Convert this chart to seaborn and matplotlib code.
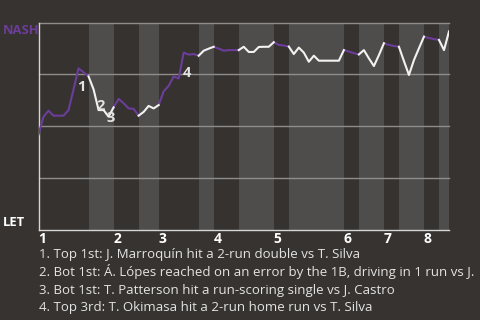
import numpy as np
import pandas as pd
import matplotlib
matplotlib.use("Agg")
import matplotlib.pyplot as plt
import seaborn as sns

# ---------------- data ----------------
# win probability for NASH after each event (1 = NASH, 0 = LET)
wp = [0.461, 0.546, 0.575, 0.551, 0.551, 0.551, 0.578, 0.678, 0.779, 0.760,
      0.740, 0.678, 0.578, 0.578, 0.546, 0.591, 0.632, 0.611, 0.586, 0.584,
      0.551, 0.569, 0.598, 0.586, 0.602, 0.668, 0.695, 0.740, 0.730, 0.855,
      0.845, 0.848, 0.840, 0.864, 0.874, 0.883, 0.874, 0.864, 0.867, 0.867,
      0.867, 0.883, 0.858, 0.858, 0.882, 0.883, 0.883, 0.905, 0.892, 0.889,
      0.884, 0.848, 0.879, 0.855, 0.811, 0.840, 0.816, 0.816, 0.816, 0.816,
      0.816, 0.867, 0.860, 0.852, 0.846, 0.867, 0.827, 0.790, 0.843, 0.900,
      0.892, 0.887, 0.883, 0.814, 0.747, 0.819, 0.876, 0.932, 0.925, 0.920,
      0.916, 0.867, 0.957]
# event index where each half inning starts (last value = final event)
half_bounds = [0, 10, 15, 20, 24, 32, 35, 40, 47, 50, 61, 64, 69, 72, 77, 80, 82]
inning_labels = ["1", "2", "3", "4", "5", "6", "7", "8"]
team_top = "NASH"
team_bottom = "LET"
note_events = [8, 12, 14, 29]
note_labels = ["1", "2", "3", "4"]
notes = [
    "1. Top 1st: J. Marroquín hit a 2-run double vs T. Silva",
    "2. Bot 1st: Á. Lópes reached on an error by the 1B, driving in 1 run vs J.",
    "3. Bot 1st: T. Patterson hit a run-scoring single vs J. Castro",
    "4. Top 3rd: T. Okimasa hit a 2-run home run vs T. Silva",
]

# ---------------- style ----------------
BG = "#363330"
DARK = "#353230"
LIGHT = "#4f4d4b"
PURPLE = "#6c3d9a"
WHITE = "#f2f2f2"
GRID = "#8e8d8b"
SPINE = "#d6d6d6"
TEXT = "#e4e4e4"
note_offsets = [(2.3, -13.5), (1.3, 3.0), (1.8, -1.2), (2.5, -14.4)]  # points

rows = []
for h in range(len(half_bounds) - 1):
    s, e = half_bounds[h], half_bounds[h + 1]
    side = "top" if h % 2 == 0 else "bot"
    for i in range(s, e + 1):
        rows.append({"event": i, "wp": wp[i], "seg": h, "side": side})
df = pd.DataFrame(rows)

plt.rcParams["font.family"] = ["Open Sans", "DejaVu Sans"]

fig = plt.figure(figsize=(4.8, 3.2), dpi=100, facecolor=BG)
ax = fig.add_axes([38.5 / 480, 90 / 320, (449 - 38.5) / 480, 207.5 / 320])
ax.set_facecolor(BG)

for h in range(len(half_bounds) - 1):
    ax.axvspan(half_bounds[h], half_bounds[h + 1],
               color=DARK if h % 2 == 0 else LIGHT, lw=0, zorder=0)
for yv in [0.25, 0.5, 0.75, 1.0]:
    ax.axhline(yv, color=GRID, lw=1.0, zorder=1, clip_on=False)

sns.lineplot(data=df, x="event", y="wp", units="seg", estimator=None,
             hue="side", palette={"top": PURPLE, "bot": WHITE},
             legend=False, lw=1.5, ax=ax, zorder=3)

ax.set_xlim(half_bounds[0], half_bounds[-1])
ax.set_ylim(0, 1)
ax.set_xlabel("")
ax.set_ylabel("")
ax.set_yticks([])
ax.set_xticks(half_bounds[:-1:2])
ax.set_xticklabels(inning_labels, fontweight="bold", color="white",
                   fontsize=10, ha="left", va="baseline")
ax.tick_params(axis="x", length=0, pad=9.2)

for side in ["top", "right"]:
    ax.spines[side].set_visible(False)
for side in ["left", "bottom"]:
    ax.spines[side].set_color(SPINE)
    ax.spines[side].set_linewidth(1.0)

fig.text(2.7 / 480, 1 - 34.3 / 320, team_top, color=PURPLE,
         fontweight="bold", fontsize=9.4, va="baseline", ha="left")
fig.text(2.7 / 480, 1 - 226 / 320, team_bottom, color="white",
         fontweight="bold", fontsize=9.4, va="baseline", ha="left")

for ev, lab, off in zip(note_events, note_labels, note_offsets):
    ax.annotate(lab, xy=(ev, wp[ev]), xytext=off, textcoords="offset points",
                ha="center", va="center", color=TEXT, fontweight="bold",
                fontsize=10.5, zorder=4)

for k, t in enumerate(notes):
    fig.text(39.3 / 480, 1 - (258.3 + 17.7 * k) / 320, t, color=TEXT,
             fontsize=9.5, va="baseline", ha="left")

fig.savefig("out.png", dpi=100, facecolor=BG)
